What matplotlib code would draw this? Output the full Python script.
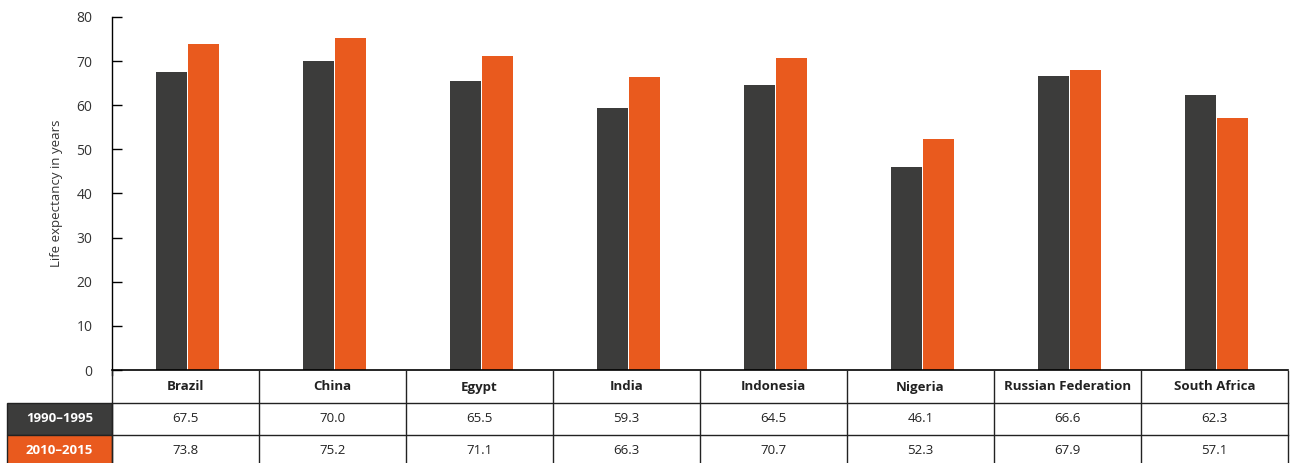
import numpy as np
import matplotlib.pyplot as plt
from matplotlib.patches import Rectangle

plt.rcParams['font.family'] = ['Open Sans', 'DejaVu Sans']

countries = ['Brazil', 'China', 'Egypt', 'India', 'Indonesia', 'Nigeria',
             'Russian Federation', 'South Africa']
series_names = ['1990\u20131995', '2010\u20132015']
le_1990 = [67.5, 70.0, 65.5, 59.3, 64.5, 46.1, 66.6, 62.3]
le_2010 = [73.8, 75.2, 71.1, 66.3, 70.7, 52.3, 67.9, 57.1]
yticks = [0, 10, 20, 30, 40, 50, 60, 70, 80]

dark = '#3c3c3b'
orange = '#e95a1e'
colours = [dark, orange]

W, H = 1291, 463
fig = plt.figure(figsize=(W / 100, H / 100), dpi=100)

# main bar axes (pixel layout from the reference)
x0, x1 = 112, 1288
ytop, ybot = 17, 370
ax = fig.add_axes([x0 / W, (H - ybot) / H, (x1 - x0) / W, (ybot - ytop) / H])

x = np.arange(len(countries))
bw = 0.212
off = 0.012
ax.bar(x - bw / 2 - 0.004 + off, le_1990, bw, color=dark)
ax.bar(x + bw / 2 + 0.004 + off, le_2010, bw, color=orange)

ax.set_xlim(-0.5, len(countries) - 0.5)
ax.set_ylim(0, 80)
ax.set_yticks(yticks)
ax.set_xticks([])
ax.tick_params(axis='y', direction='in', length=7, width=1, labelsize=10,
               labelcolor='#333333', pad=14)
for s in ['top', 'right']:
    ax.spines[s].set_visible(False)
ax.spines['left'].set_linewidth(1)
ax.spines['left'].set_bounds(-1.2, 80)
ax.spines['bottom'].set_linewidth(1.2)
ax.set_ylabel('Life expectancy in years', fontsize=9.5, color='#333333', labelpad=10)

# table axes below, sharing the column positions
ttop = 371
tbot = 467
tax = fig.add_axes([x0 / W, (H - tbot) / H, (x1 - x0) / W, (tbot - ttop) / H])
tax.set_xlim(-0.5, len(countries) - 0.5)
tax.set_ylim(3, 0)
tax.axis('off')

lw = 1.0
# horizontal grid
for r in [1, 2, 3]:
    tax.plot([-0.5, len(countries) - 0.5], [r, r], color='#222222', lw=lw, clip_on=False)
# vertical grid
for c in range(len(countries) + 1):
    tax.plot([c - 0.5, c - 0.5], [0, 3], color='#222222', lw=lw, clip_on=False)

for i, name in enumerate(countries):
    tax.text(i, 0.5, name, ha='center', va='center', fontsize=9.5,
             fontweight='bold', color='#222222')
    tax.text(i, 1.5, f'{le_1990[i]:.1f}', ha='center', va='center',
             fontsize=9.5, color='#222222')
    tax.text(i, 2.5, f'{le_2010[i]:.1f}', ha='center', va='center',
             fontsize=9.5, color='#222222')

# row labels to the left of the table
label_w = (112 - 7) / 147
for r, (name, col) in enumerate(zip(series_names, colours)):
    tax.add_patch(Rectangle((-0.5 - label_w, r + 1), label_w, 1, facecolor=col,
                            edgecolor='#222222', lw=lw, clip_on=False))
    tax.text(-0.5 - label_w / 2, r + 1.5, name, ha='center', va='center',
             fontsize=9.5, fontweight='bold', color='white')

fig.savefig('out.png', dpi=100)
